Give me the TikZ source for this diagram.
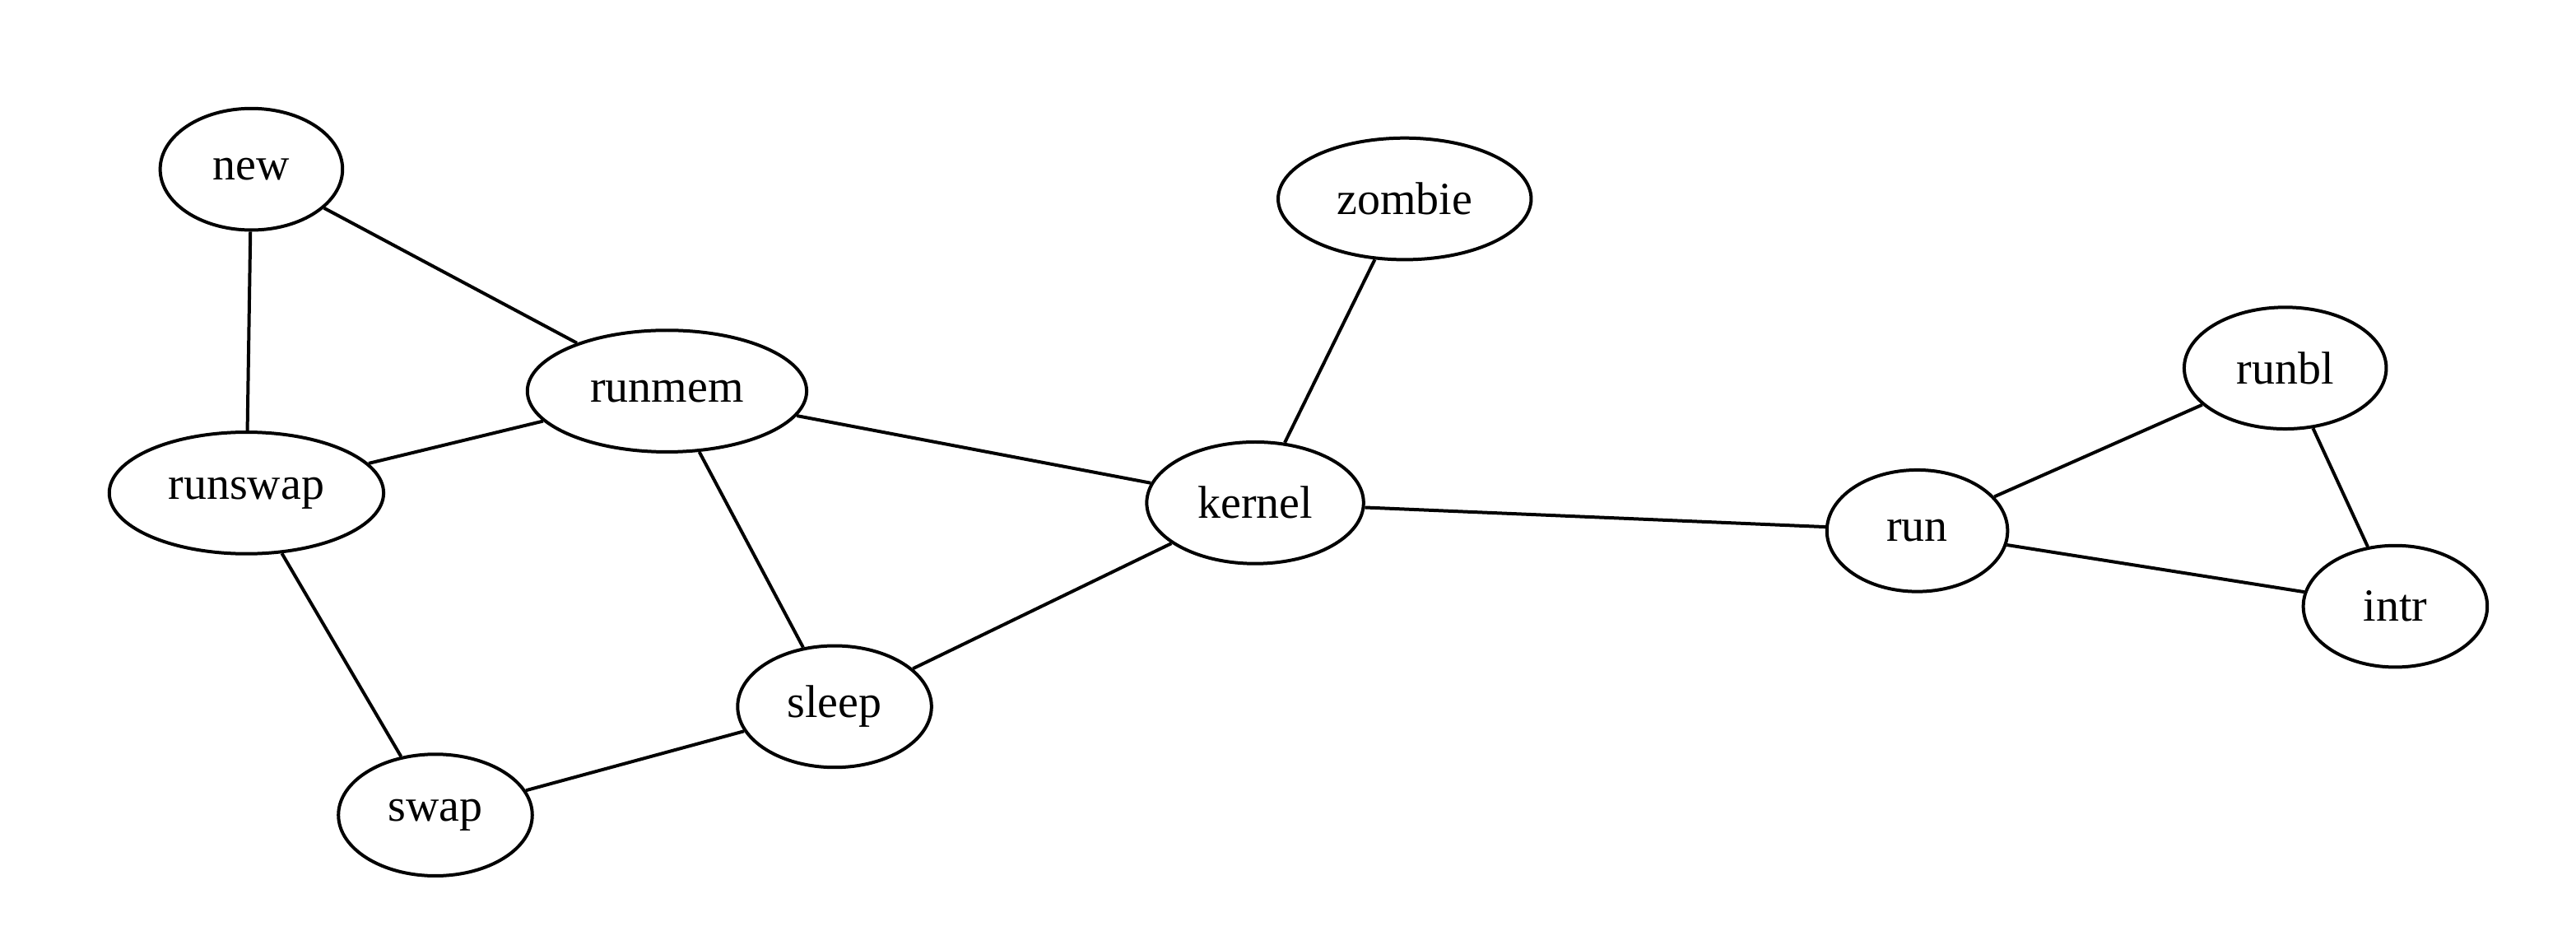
\documentclass[tikz,border=0pt]{standalone}
\usepackage{fontspec}
\setmainfont{Liberation Serif}
\usetikzlibrary{shapes.geometric}
\begin{document}
\begin{tikzpicture}[x=0.5pt,y=-0.5pt,
  state/.style={ellipse,draw,line width=1pt,inner sep=0pt,minimum height=37pt,font=\fontsize{14}{16}\selectfont},
  link/.style={line width=1pt}]
\useasboundingbox (0,0) rectangle (1568,575);
\node[state,minimum width=55.5pt] (new) at (153,103) {new};
\node[state,minimum width=77pt] (zombie) at (855,121) {zombie};
\node[state,minimum width=85pt] (runmem) at (406,238) {runmem};
\node[state,minimum width=61.5pt] (runbl) at (1391,224) {runbl};
\node[state,minimum width=83.5pt] (runswap) at (150,300) {runswap};
\node[state,minimum width=66pt] (kernel) at (764,306) {kernel};
\node[state,minimum width=55pt] (run) at (1167,323) {run};
\node[state,minimum width=56pt] (intr) at (1458,369) {intr};
\node[state,minimum width=59pt] (sleep) at (508,430) {sleep};
\node[state,minimum width=59pt] (swap) at (265,496) {swap};
\draw[link] (new) -- (runmem);
\draw[link] (new) -- (runswap);
\draw[link] (runmem) -- (runswap);
\draw[link] (runmem) -- (kernel);
\draw[link] (runmem) -- (sleep);
\draw[link] (runswap) -- (swap);
\draw[link] (swap) -- (sleep);
\draw[link] (sleep) -- (kernel);
\draw[link] (kernel) -- (zombie);
\draw[link] (kernel) -- (run);
\draw[link] (run) -- (runbl);
\draw[link] (run) -- (intr);
\draw[link] (runbl) -- (intr);
\end{tikzpicture}
\end{document}
